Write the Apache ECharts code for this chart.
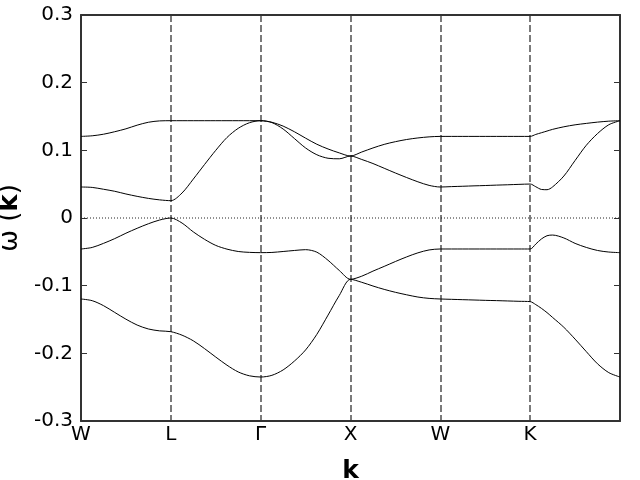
<!DOCTYPE html>
<html>
<head>
<meta charset="utf-8">
<script src="https://cdn.jsdelivr.net/npm/echarts@6/dist/echarts.min.js"></script>
<style>html,body{margin:0;padding:0;background:#fff}#c{width:640px;height:480px}</style>
</head>
<body>
<div id="c"></div>
<script>
const kTickLabels = ['W', 'L', 'Γ', 'X', 'W', 'K', ''];
const yTicks = [-0.3, -0.2, -0.1, 0, 0.1, 0.2, 0.3];

const kDist = [
  0, 0.125, 0.25, 0.375, 0.5, 0.625, 0.75, 0.875, 1,
  1.125, 1.25, 1.375, 1.5, 1.625, 1.75, 1.875, 2,
  2.125, 2.25, 2.375, 2.5, 2.625, 2.75, 2.875, 3,
  3.125, 3.25, 3.375, 3.5, 3.625, 3.75, 3.875, 4,
  4.125, 4.25, 4.375, 4.5, 4.625, 4.75, 4.875, 5,
  5.0625, 5.125, 5.1875, 5.25, 5.375, 5.5, 5.625, 5.75, 5.875, 6
];

const band1 = [
  0.1206, 0.1215, 0.1238, 0.1275, 0.1318, 0.1372, 0.1415, 0.1435, 0.1438,
  0.1438, 0.1438, 0.1438, 0.1438, 0.1438, 0.1438, 0.1438, 0.1438,
  0.1415, 0.1358, 0.1275, 0.118, 0.109, 0.102, 0.0962, 0.0916,
  0.0975, 0.1035, 0.1088, 0.1128, 0.116, 0.1183, 0.1199, 0.1206,
  0.1206, 0.1206, 0.1206, 0.1206, 0.1206, 0.1206, 0.1206, 0.1206,
  0.1235, 0.126, 0.1285, 0.131, 0.1348, 0.1377, 0.1398, 0.1417, 0.1431, 0.1438
];

const band2 = [
  0.0458, 0.0452, 0.0425, 0.0395, 0.0355, 0.032, 0.029, 0.0268, 0.0256,
  0.037, 0.0575, 0.079, 0.100, 0.119, 0.1325, 0.1408, 0.1438,
  0.141, 0.1315, 0.1175, 0.1035, 0.0935, 0.0883, 0.0875, 0.0916,
  0.0865, 0.0805, 0.0735, 0.0665, 0.0598, 0.0535, 0.0482, 0.0458,
  0.0464, 0.0469, 0.0475, 0.048, 0.0486, 0.0491, 0.0497, 0.0502,
  0.0462, 0.0422, 0.0418, 0.046, 0.062, 0.085, 0.1075, 0.1248, 0.1378, 0.1438
];

const band3 = [
  -0.0458, -0.0435, -0.0375, -0.0305, -0.0225, -0.0152, -0.0085, -0.003, 0,
  -0.0075, -0.0205, -0.0315, -0.0405, -0.046, -0.0495, -0.0508, -0.0512,
  -0.0509, -0.0495, -0.048, -0.0468, -0.0505, -0.0625, -0.0775, -0.0906,
  -0.086, -0.0785, -0.0715, -0.0643, -0.0575, -0.0515, -0.0472, -0.0458,
  -0.0458, -0.0458, -0.0458, -0.0458, -0.0458, -0.0458, -0.0458, -0.0458,
  -0.0385, -0.031, -0.0262, -0.0252, -0.0295, -0.0375, -0.0435, -0.048, -0.0503, -0.0512
];

const band4 = [
  -0.1197, -0.1222, -0.1295, -0.1395, -0.1495, -0.1582, -0.164, -0.1668, -0.168,
  -0.1732, -0.1815, -0.193, -0.2055, -0.2175, -0.2275, -0.2332, -0.235,
  -0.2325, -0.2245, -0.2115, -0.195, -0.172, -0.1435, -0.1145, -0.0906,
  -0.095, -0.1005, -0.1055, -0.1098, -0.1135, -0.1168, -0.1188, -0.1197,
  -0.1202, -0.1207, -0.1212, -0.1217, -0.1221, -0.1226, -0.1231, -0.1236,
  -0.128, -0.1335, -0.1398, -0.147, -0.1615, -0.179, -0.1975, -0.2155, -0.2285, -0.235
];

const FONT = 'DejaVu Sans';
const bands = [band1, band2, band3, band4];

const chart = echarts.init(document.getElementById('c'), null, {renderer: 'canvas'});

const yMin = yTicks[0], yMax = yTicks[yTicks.length - 1];
const kMin = 0, kMax = kTickLabels.length - 1;

const series = bands.map((b, i) => ({
  type: 'line',
  name: 'band' + (i + 1),
  data: kDist.map((k, j) => [k, b[j]]),
  showSymbol: false,
  symbol: 'none',
  smooth: 0.3,
  lineStyle: {color: '#000', width: 1},
  silent: true,
  z: 5
}));

series.push({
  type: 'line',
  name: 'zero',
  data: [[kMin, 0], [kMax, 0]],
  showSymbol: false,
  symbol: 'none',
  lineStyle: {color: '#222', width: 1, type: [1, 2]},
  silent: true,
  z: 3
});

const axisLineStyle = {color: '#333', width: 2};

chart.setOption({
  animation: false,
  backgroundColor: '#fff',
  grid: {left: 81, right: 20, top: 15, bottom: 59, containLabel: false, outerBoundsMode: 'none'},
  xAxis: [{
    type: 'value',
    min: kMin, max: kMax, interval: 1,
    position: 'bottom',
    axisLine: {show: true, onZero: false, lineStyle: axisLineStyle},
    axisTick: {show: false},
    axisLabel: {
      show: true, margin: 4,
      fontFamily: FONT, fontSize: 20, color: '#000',
      formatter: v => kTickLabels[Math.round(v)] || ''
    },
    splitLine: {show: true, lineStyle: {color: '#7a7a7a', width: 2, type: [7, 3]}},
    name: 'k',
    nameLocation: 'middle',
    nameGap: 38,
    nameTextStyle: {fontFamily: FONT, fontSize: 25, fontWeight: 'bold', color: '#000'}
  }, {
    type: 'value',
    min: kMin, max: kMax, interval: 1,
    position: 'top',
    axisLine: {show: true, onZero: false, lineStyle: axisLineStyle},
    axisTick: {show: false},
    axisLabel: {show: false},
    splitLine: {show: false}
  }],
  yAxis: [{
    type: 'value',
    min: yMin, max: yMax, interval: 0.1,
    position: 'left',
    axisLine: {show: true, onZero: false, lineStyle: axisLineStyle},
    axisTick: {show: true, inside: true, length: 6, lineStyle: {color: '#333', width: 1}},
    axisLabel: {
      show: true, margin: 8,
      fontFamily: FONT, fontSize: 20, color: '#000',
      formatter: v => Math.abs(v) < 1e-9 ? '0' : v.toFixed(1)
    },
    splitLine: {show: false},
    name: '{a|ω (}{b|k}{a|)}',
    nameLocation: 'middle',
    nameGap: 51,
    nameRotate: 90,
    nameTextStyle: {
      rich: {
        a: {fontFamily: FONT, fontSize: 26, color: '#000'},
        b: {fontFamily: FONT, fontSize: 26, fontWeight: 'bold', color: '#000'}
      }
    }
  }, {
    type: 'value',
    min: yMin, max: yMax, interval: 0.1,
    position: 'right',
    axisLine: {show: true, onZero: false, lineStyle: axisLineStyle},
    axisTick: {show: true, inside: true, length: 6, lineStyle: {color: '#333', width: 1}},
    axisLabel: {show: false},
    splitLine: {show: false}
  }],
  series: series
});
</script>
</body>
</html>
